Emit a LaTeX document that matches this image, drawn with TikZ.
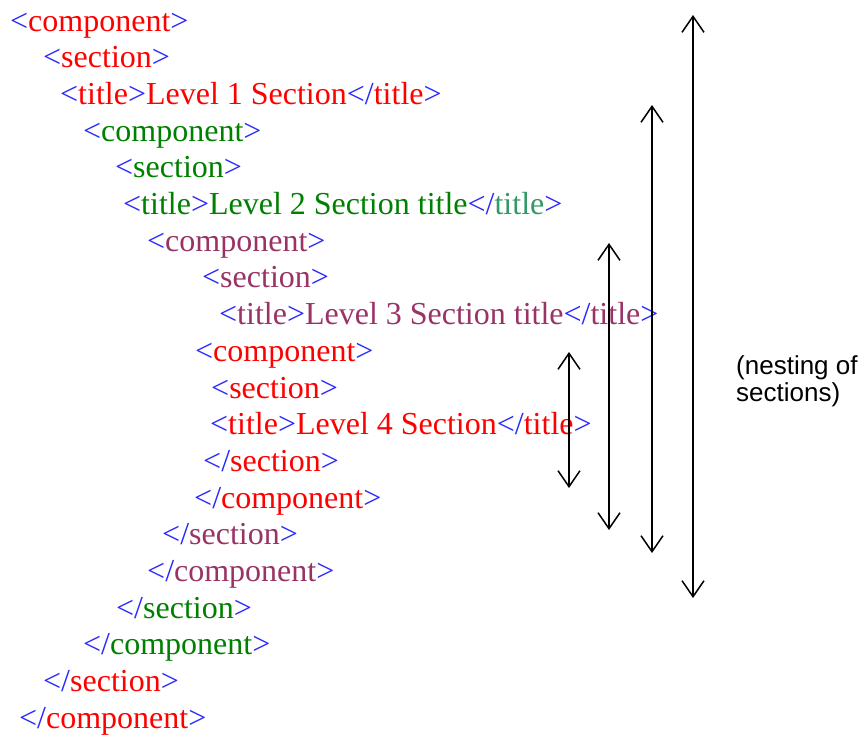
\documentclass[tikz,border=0pt]{standalone}
\usepackage{fontspec}
\setmainfont{Liberation Serif}
\newfontfamily\labelfont{Liberation Sans}
\usetikzlibrary{arrows.meta}
\definecolor{tagblue}{RGB}{40,40,255}
\definecolor{lvred}{RGB}{255,0,0}
\definecolor{lvgreen}{RGB}{0,128,0}
\definecolor{lvpurple}{RGB}{153,51,102}
\definecolor{lvteal}{RGB}{51,153,102}
\newcommand\tb[1]{\textcolor{tagblue}{#1}}
\newcommand\opn[2]{\tb{<}\textcolor{#1}{#2}\tb{>}}
\newcommand\cls[2]{\tb{</}\textcolor{#1}{#2}\tb{>}}
\tikzset{
  xmlline/.style={anchor=base west, inner sep=0pt, font=\fontsize{32}{36}\selectfont},
  nestarrow/.style={line width=1.5pt, {Straight Barb[length=16pt,width=22pt,line width=1.5pt]}-{Straight Barb[length=16pt,width=22pt,line width=1.5pt]}},
}
\begin{document}
\begin{tikzpicture}[x=1pt,y=-1pt]
\useasboundingbox (0,0) rectangle (864,734);
\def\bl#1{31+36.7*(#1-1)}
\node[xmlline] (l1)  at (10,{\bl{1}})  {\opn{lvred}{component}};
\node[xmlline] (l2)  at (43,{\bl{2}})  {\opn{lvred}{section}};
\node[xmlline] (l3)  at (60,{\bl{3}})  {\opn{lvred}{title}\textcolor{lvred}{Level 1 Section}\cls{lvred}{title}};
\node[xmlline] (l4)  at (83,{\bl{4}})  {\opn{lvgreen}{component}};
\node[xmlline] (l5)  at (115,{\bl{5}}) {\opn{lvgreen}{section}};
\node[xmlline] (l6)  at (123,{\bl{6}}) {\opn{lvgreen}{title}\textcolor{lvgreen}{Level 2 Section title}\cls{lvteal}{title}};
\node[xmlline] (l7)  at (147,{\bl{7}}) {\opn{lvpurple}{component}};
\node[xmlline] (l8)  at (202,{\bl{8}}) {\opn{lvpurple}{section}};
\node[xmlline] (l9)  at (219,{\bl{9}}) {\opn{lvpurple}{title}\textcolor{lvpurple}{Level 3 Section title}\cls{lvpurple}{title}};
\node[xmlline] (l10) at (195,{\bl{10}}) {\opn{lvred}{component}};
\node[xmlline] (l11) at (211,{\bl{11}}) {\opn{lvred}{section}};
\node[xmlline] (l12) at (210,{\bl{12}}) {\opn{lvred}{title}\textcolor{lvred}{Level 4 Section}\cls{lvred}{title}};
\node[xmlline] (l13) at (203,{\bl{13}}) {\cls{lvred}{section}};
\node[xmlline] (l14) at (194,{\bl{14}}) {\cls{lvred}{component}};
\node[xmlline] (l15) at (162,{\bl{15}}) {\cls{lvpurple}{section}};
\node[xmlline] (l16) at (147,{\bl{16}}) {\cls{lvpurple}{component}};
\node[xmlline] (l17) at (116,{\bl{17}}) {\cls{lvgreen}{section}};
\node[xmlline] (l18) at (83,{\bl{18}}) {\cls{lvgreen}{component}};
\node[xmlline] (l19) at (43,{\bl{19}}) {\cls{lvred}{section}};
\node[xmlline] (l20) at (19,{\bl{20}}) {\cls{lvred}{component}};
% arrows
\coordinate (a1t) at (693,15);  \coordinate (a1b) at (693,598);
\coordinate (a2t) at (652,105); \coordinate (a2b) at (652,553);
\coordinate (a3t) at (609,243); \coordinate (a3b) at (609,530);
\coordinate (a4t) at (569,352); \coordinate (a4b) at (569,488);
\draw[nestarrow] (a1t) -- (a1b);
\draw[nestarrow] (a2t) -- (a2b);
\draw[nestarrow] (a3t) -- (a3b);
\draw[nestarrow] (a4t) -- (a4b);
\node[anchor=north west, inner sep=0pt, align=left, font=\labelfont\fontsize{26}{27}\selectfont] (lbl) at (736,355) {(nesting of\\sections)};
\end{tikzpicture}
\end{document}
